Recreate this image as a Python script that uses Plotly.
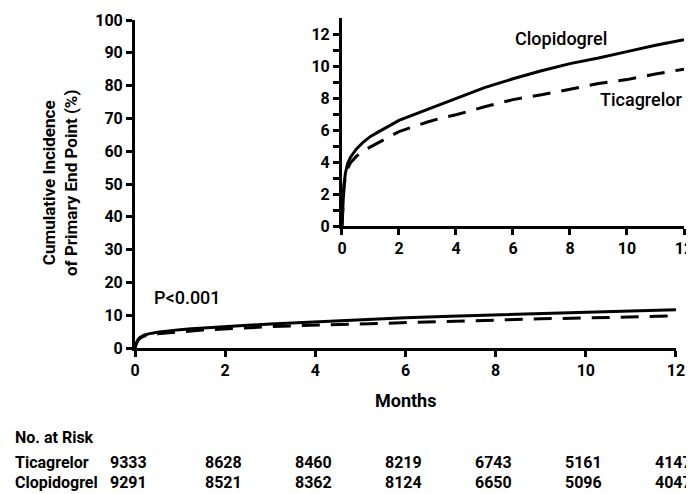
import plotly.graph_objects as go

months = [0, 0.03, 0.07, 0.12, 0.2, 0.3, 0.5, 0.75, 1, 1.25, 1.5, 1.75, 2, 2.5, 3, 3.5, 4, 5, 6, 7, 8, 9, 10, 11, 12]
clopidogrel = [0, 1.5, 2.6, 3.3, 3.9, 4.3, 4.8, 5.25, 5.6, 5.85, 6.1, 6.35, 6.6, 6.95, 7.3, 7.65, 8.0, 8.65, 9.2, 9.7, 10.15, 10.5, 10.9, 11.3, 11.65]
ticagrelor = [0, 1.4, 2.4, 3.1, 3.6, 3.95, 4.35, 4.7, 4.95, 5.2, 5.45, 5.65, 5.9, 6.2, 6.5, 6.75, 6.95, 7.45, 7.9, 8.2, 8.55, 8.9, 9.15, 9.5, 9.8]

risk_months = [0, 2, 4, 6, 8, 10, 12]
risk_ticagrelor = [9333, 8628, 8460, 8219, 6743, 5161, 4147]
risk_clopidogrel = [9291, 8521, 8362, 8124, 6650, 5096, 4047]

main_yticks = list(range(0, 101, 10))
inset_yticks = list(range(0, 13))
inset_ylabels = [str(v) if v % 2 == 0 else "" for v in inset_yticks]
xticks = [0, 2, 4, 6, 8, 10, 12]

FONT = "Roboto, Open Sans, sans-serif"
DASH = "18px,11px"

fig = go.Figure()
# main panel
fig.add_trace(go.Scatter(x=months, y=ticagrelor, mode="lines", line=dict(color="black", width=3, dash=DASH),
                         xaxis="x", yaxis="y", showlegend=False))
fig.add_trace(go.Scatter(x=months, y=clopidogrel, mode="lines", line=dict(color="black", width=3),
                         xaxis="x", yaxis="y", showlegend=False))
# inset panel
fig.add_trace(go.Scatter(x=months, y=ticagrelor, mode="lines", line=dict(color="black", width=3, dash=DASH),
                         xaxis="x2", yaxis="y2", showlegend=False))
fig.add_trace(go.Scatter(x=months, y=clopidogrel, mode="lines", line=dict(color="black", width=3),
                         xaxis="x2", yaxis="y2", showlegend=False))

axis_common = dict(showgrid=False, zeroline=False, showline=True, linecolor="black", automargin=False,
                   ticks="outside", tickcolor="black", linewidth=3, ticklen=6, tickwidth=2.5,
                   tickfont=dict(family=FONT, size=16, color="black", weight="bold"))

fig.update_layout(
    width=694, height=494,
    margin=dict(l=127, r=18, t=10, b=154),
    paper_bgcolor="white", plot_bgcolor="white",
    xaxis=dict(domain=[0, 0.9854], range=[0, 12], tickvals=xticks, **axis_common),
    yaxis=dict(domain=[0, 0.9939], range=[0, 100], tickvals=main_yticks, **axis_common),
    xaxis2=dict(domain=[0.377, 1.0], range=[0, 12], tickvals=xticks, anchor="y2", **axis_common),
    yaxis2=dict(domain=[0.3697, 1.0], range=[0, 13], tickvals=inset_yticks, ticktext=inset_ylabels,
                anchor="x2", **axis_common),
)

bold = lambda s: dict(family=FONT, size=s, color="black", weight="bold")
med = lambda s: dict(family=FONT, size=s, color="black", weight=500)
ann = []
ann.append(dict(text="Cumulative Incidence<br>of Primary End Point (%)", xref="paper", yref="paper",
                x=-0.1366, y=0.5, xanchor="center", yanchor="middle", textangle=-90,
                showarrow=False, font=bold(17)))
ann.append(dict(text="P<0.001", xref="x", yref="y", x=0.38, y=15.5, xanchor="left", yanchor="middle",
                showarrow=False, font=med(18)))
ann.append(dict(text="Months", xref="paper", yref="paper", x=0.4927, y=-0.16, xanchor="center",
                yanchor="middle", showarrow=False, font=bold(18)))
ann.append(dict(text="Clopidogrel", xref="x2", yref="y2", x=6.0, y=11.7, xanchor="left", yanchor="middle",
                showarrow=False, font=med(18)))
ann.append(dict(text="Ticagrelor", xref="x2", yref="y2", x=8.98, y=7.9, xanchor="left", yanchor="middle",
                showarrow=False, font=med(18)))
row_y = [-0.2697, -0.3455, -0.409]
for label, ry in zip(["No. at Risk", "Ticagrelor", "Clopidogrel"], row_y):
    ann.append(dict(text=label, xref="paper", yref="paper", x=-0.222, y=ry, xanchor="left",
                    yanchor="middle", showarrow=False, font=bold(16)))
for m, t, c in zip(risk_months, risk_ticagrelor, risk_clopidogrel):
    xs = -7 if m == 0 else -2
    for val, ry in ((t, row_y[1]), (c, row_y[2])):
        ann.append(dict(text=str(val), xref="x", yref="paper", x=m, y=ry, xshift=xs,
                        xanchor="center", yanchor="middle", showarrow=False, font=bold(16)))
fig.update_layout(annotations=ann)

fig.write_html("out.html")
